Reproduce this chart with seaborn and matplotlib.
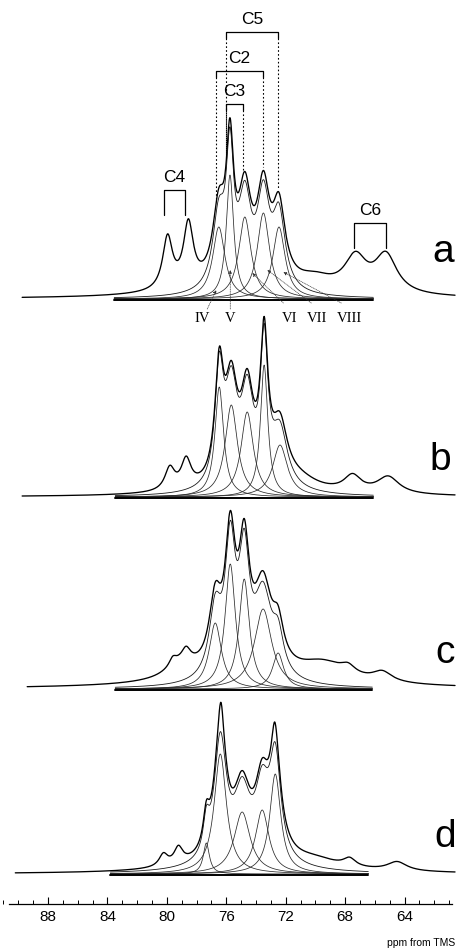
import numpy as np
import pandas as pd
import seaborn as sns
import matplotlib.pyplot as plt
from matplotlib.ticker import MultipleLocator

# ---------------------------------------------------------------
# Peak tables (position ppm, height, half width ppm)
# components IV..VIII of the deconvolution
comp_pos_a = [76.5, 75.75, 74.75, 73.5, 72.45]
comp_amp_a = [72, 124, 82, 86, 72]
comp_hw_a = [0.50, 0.30, 0.50, 0.50, 0.50]

comp_pos_b = [76.47, 75.66, 74.59, 73.45, 72.38]
comp_amp_b = [110, 92, 85, 132, 52]
comp_hw_b = [0.35, 0.50, 0.50, 0.30, 0.60]

comp_pos_c = [76.74, 75.73, 74.79, 73.52, 72.51]
comp_amp_c = [66, 125, 110, 80, 36]
comp_hw_c = [0.50, 0.42, 0.42, 0.70, 0.45]

comp_pos_d = [77.34, 76.4, 74.93, 73.58, 72.7]
comp_amp_d = [31, 120, 62, 64, 100]
comp_hw_d = [0.25, 0.50, 0.65, 0.55, 0.45]

# broad part included in the fitted sum
fit_pos = {"a": [74.5], "b": [73.2], "c": [74.5], "d": [74.5]}
fit_amp = {"a": [6], "b": [10], "c": [6], "d": [10]}
fit_hw = {"a": [1.8], "b": [1.5], "c": [2.0], "d": [2.5]}

# remaining signals of the measured spectrum: C4 pair, C6 pair, background
rest_pos_a = [79.95, 78.55, 67.3, 65.25, 70.0, 75.0]
rest_amp_a = [52, 62, 34, 38, 12, 6]
rest_hw_a = [0.40, 0.40, 0.90, 0.90, 1.5, 6.0]

rest_pos_b = [79.8, 78.7, 67.5, 65.1, 71.0, 74.0]
rest_amp_b = [22, 28, 16, 17, 8, 4]
rest_hw_b = [0.40, 0.40, 0.70, 0.90, 1.5, 5.0]

rest_pos_c = [79.6, 78.7, 79.0, 69.5, 67.8, 65.5, 74.0]
rest_amp_c = [8, 12, 15, 18, 8, 10, 6]
rest_hw_c = [0.30, 0.35, 1.3, 2.0, 0.60, 0.80, 8.0]

rest_pos_d = [76.35, 72.75, 80.23, 79.22, 67.7, 64.5, 70.0, 74.5]
rest_amp_d = [25, 13, 12, 16, 8, 9, 8, 4]
rest_hw_d = [0.20, 0.20, 0.35, 0.35, 0.50, 0.80, 2.0, 5.0]

panels = ["a", "b", "c", "d"]
roman = ["IV", "V", "VI", "VII", "VIII"]
tick_values = [88, 84, 80, 76, 72, 68, 64]

# layout (pixel-like vertical units, measured up from the ppm axis)
base = {"a": 605, "b": 407, "c": 215, "d": 30}
decon_range = {"a": (83.54, 66.1), "b": (83.47, 66.1), "c": (83.47, 66.17), "d": (83.8, 66.44)}
spec_range = {"a": (89.74, 60.6), "b": (89.74, 60.6), "c": (89.4, 60.6), "d": (90.2, 60.6)}

tables = {
    "a": (comp_pos_a, comp_amp_a, comp_hw_a, rest_pos_a, rest_amp_a, rest_hw_a),
    "b": (comp_pos_b, comp_amp_b, comp_hw_b, rest_pos_b, rest_amp_b, rest_hw_b),
    "c": (comp_pos_c, comp_amp_c, comp_hw_c, rest_pos_c, rest_amp_c, rest_hw_c),
    "d": (comp_pos_d, comp_amp_d, comp_hw_d, rest_pos_d, rest_amp_d, rest_hw_d),
}


def lorentz(x, pos, amp, hw):
    y = np.zeros_like(x)
    for p, a, w in zip(pos, amp, hw):
        y = y + a / (1 + ((x - p) / w) ** 2)
    return y


def measured(key, x):
    cp, ca, cw, rp, ra, rw = tables[key]
    return (lorentz(x, cp, ca, cw) + lorentz(x, fit_pos[key], fit_amp[key], fit_hw[key])
            + lorentz(x, rp, ra, rw))


sns.set_theme(style="white")
plt.rcParams["font.family"] = ["Liberation Sans", "DejaVu Sans"]
plt.rcParams["text.color"] = "black"
plt.rcParams["xtick.color"] = "black"

fig = plt.figure(figsize=(4.58, 9.5), dpi=100)
ax = fig.add_axes([0, 46 / 950, 1, 904 / 950])
ax.set_xlim(91.23, 60.40)
ax.set_ylim(0, 904)

for key in panels:
    cp, ca, cw, rp, ra, rw = tables[key]
    b0 = base[key]
    lo, hi = decon_range[key]
    xs = np.linspace(lo, hi, 900)
    # single components
    for p, a, w in zip(cp, ca, cw):
        sns.lineplot(x=xs, y=b0 + lorentz(xs, [p], [a], [w]), ax=ax, color="#2a2a2a",
                     lw=0.55, sort=False, estimator=None)
    # fitted sum
    fit = lorentz(xs, cp, ca, cw) + lorentz(xs, fit_pos[key], fit_amp[key], fit_hw[key])
    sns.lineplot(x=xs, y=b0 + fit, ax=ax, color="#1a1a1a", lw=0.6, sort=False, estimator=None)
    # baseline of the deconvolution
    sns.lineplot(x=[lo, hi], y=[b0 - 1, b0 - 1], ax=ax, color="black", lw=1.4,
                 sort=False, estimator=None)
    # measured spectrum
    s0, s1 = spec_range[key]
    xe = np.linspace(s0, s1, 1600)
    sns.lineplot(x=xe, y=b0 + measured(key, xe), ax=ax, color="black", lw=0.95,
                 sort=False, estimator=None)

# panel letters
letter_pos = {"a": (61.39, 642), "b": (61.6, 434), "c": (61.25, 241), "d": (61.25, 57)}
for key in panels:
    ax.text(*letter_pos[key], key, fontsize=28, ha="center", va="baseline")


def spec_a(x):
    return base["a"] + measured("a", np.array([x]))[0]


# assignment brackets of spectrum a
brackets = [
    ("C5", 76.0, 72.5, 872, 74.25),
    ("C2", 76.67, 73.5, 833, 75.12),
    ("C3", 76.0, 74.86, 800, 75.45),
]
for name, x0, x1, yb, xt in brackets:
    ax.plot([x0, x0, x1, x1], [yb - 6, yb, yb, yb - 6], color="black", lw=0.9)
    ax.text(xt, yb + 5, name, fontsize=12.5, ha="center", va="bottom")
    for xv in (x0, x1):
        ax.plot([xv, xv], [yb - 6, spec_a(xv) + 3], color="black", lw=0.8, ls=(0, (1.5, 2)))

for name, x0, x1, yb, ydown, xt in [("C4", 80.18, 78.76, 714, 689, 79.5),
                                     ("C6", 67.38, 65.23, 681, 656, 66.3)]:
    ax.plot([x0, x0, x1, x1], [ydown, yb, yb, ydown], color="black", lw=0.9)
    ax.text(xt, yb + 5, name, fontsize=12.5, ha="center", va="bottom")

# component labels with dotted leaders
label_x = [77.6, 75.73, 71.76, 69.87, 67.72]
leader_from = [(77.28, 595), (75.73, 595), (72.16, 601), (70.28, 601), (68.26, 601)]
leader_to = [(76.67, 614), (75.73, 634), (74.25, 631), (73.24, 634), (72.16, 632)]
for lab, lx, p0, p1 in zip(roman, label_x, leader_from, leader_to):
    ax.text(lx, 585, lab, fontsize=10.5, family=["Liberation Serif", "DejaVu Serif"],
            ha="center", va="center")
    ax.annotate("", xy=p1, xytext=p0,
                arrowprops=dict(arrowstyle="-|>", lw=0.5, ls=(0, (1, 1.5)), color="#333333",
                                mutation_scale=5, shrinkA=0, shrinkB=0))

# ppm axis
for side in ["top", "left", "right"]:
    ax.spines[side].set_visible(False)
ax.spines["bottom"].set_bounds(90.6, 60.8)
ax.spines["bottom"].set_linewidth(0.9)
ax.spines["bottom"].set_color("black")
ax.set_yticks([])
ax.xaxis.set_major_locator(MultipleLocator(4))
ax.xaxis.set_minor_locator(MultipleLocator(1))
ax.set_xticks(tick_values)
ax.set_xticklabels([str(t) for t in tick_values])
ax.tick_params(axis="x", which="major", direction="in", length=5, width=0.8,
               labelsize=11, pad=4, bottom=True, color="black")
ax.tick_params(axis="x", which="minor", direction="in", length=3, width=0.7,
               bottom=True, color="black")
ax.patch.set_alpha(0)
fig.text(455 / 458, 1 - 946 / 950, "ppm from TMS", fontsize=7.5, ha="right", va="baseline")

fig.savefig("out.png", dpi=100)
